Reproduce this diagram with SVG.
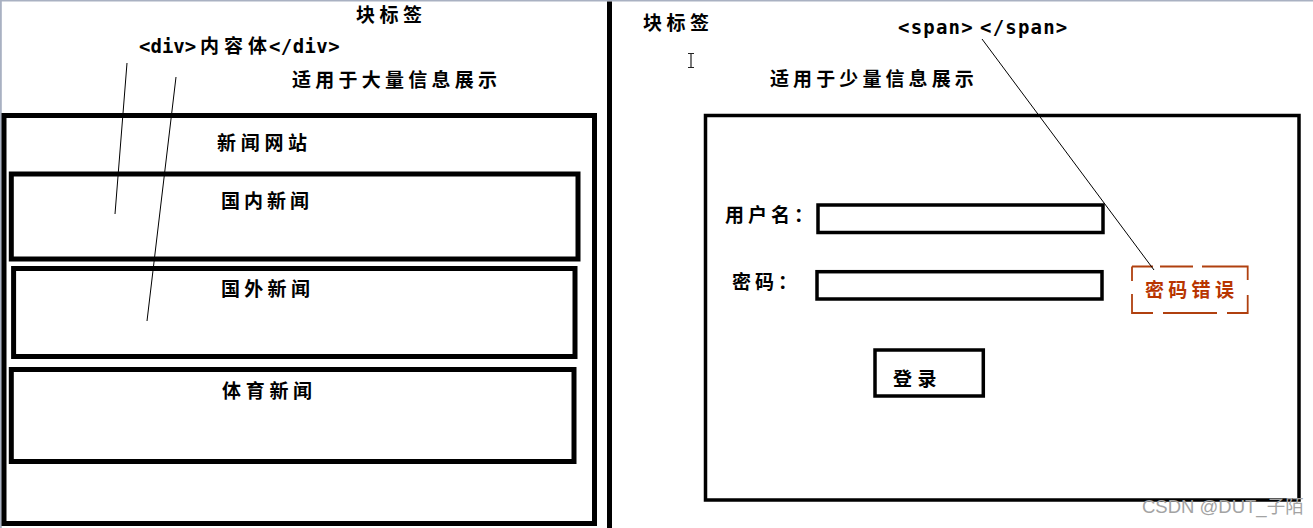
<svg xmlns="http://www.w3.org/2000/svg" width="1313" height="528" viewBox="0 0 1313 528">
  <style>
    .box { fill: none; stroke: #000; }
    .thick { stroke-width: 5; }
    .mid { stroke-width: 3.5; }
    .cjk { font-family: "Noto Sans CJK SC", "Noto Sans CJK JP", sans-serif; font-size: 19px; font-weight: bold; fill: #000; }
    .mono { font-family: "DejaVu Sans Mono", "Liberation Mono", monospace; font-size: 19px; font-weight: bold; fill: #000; }
    .conn { stroke: #000; stroke-width: 1; fill: none; }
    .err { fill: #b83500; }
    .errbox { stroke: #b0400f; stroke-width: 1.8; fill: none; }
    .mark { font-family: "Liberation Sans", "Noto Sans CJK SC", sans-serif; font-size: 18.5px; fill: #a3a3a3; }
  </style>
  <rect x="0" y="0" width="1313" height="528" fill="#fff"/>
  <!-- window edges -->
  <rect x="0" y="0" width="1313" height="1.5" fill="#a9b1c2"/>
  <rect x="0" y="0" width="1.8" height="528" fill="#a9b1c2"/>

  <!-- divider -->
  <g id="divider">
    <line x1="609.5" y1="1.5" x2="609.5" y2="528" stroke="#000" stroke-width="5"/>
  </g>

  <!-- left side -->
  <g id="title-left">
    <text class="cjk" x="356" y="21.5" letter-spacing="4.5">块标签</text>
  </g>
  <g id="div-label">
    <text class="mono" y="53"><tspan x="139" letter-spacing="0">&lt;div&gt;</tspan><tspan class="cjk" x="200" letter-spacing="5">内容体</tspan><tspan x="269" letter-spacing="0.4">&lt;/div&gt;</tspan></text>
  </g>
  <g id="desc-left">
    <text class="cjk" x="292" y="86.5" letter-spacing="4.25">适用于大量信息展示</text>
  </g>
  <g id="news-site">
    <rect class="box thick" x="4" y="115.5" width="590.5" height="408"/>
    <text class="cjk" x="217" y="149.5" letter-spacing="4.7">新闻网站</text>
  </g>
  <g id="domestic-news">
    <rect class="box thick" x="11.3" y="174" width="566.7" height="85"/>
    <text class="cjk" x="221" y="207.5" letter-spacing="4">国内新闻</text>
  </g>
  <g id="foreign-news">
    <rect class="box thick" x="13.6" y="268.5" width="561.4" height="88"/>
    <text class="cjk" x="221" y="295.5" letter-spacing="4.3">国外新闻</text>
  </g>
  <g id="sports-news">
    <rect class="box thick" x="11.3" y="369.5" width="562.7" height="92"/>
    <text class="cjk" x="222" y="398" letter-spacing="4.7">体育新闻</text>
  </g>

  <!-- right side -->
  <g id="title-right">
    <text class="cjk" x="643" y="30" letter-spacing="4.5">块标签</text>
  </g>
  <g id="span-label">
    <text class="mono" y="34" letter-spacing="1.2"><tspan x="898">&lt;span&gt;</tspan><tspan x="980">&lt;/span&gt;</tspan></text>
  </g>
  <g id="cursor">
    <path d="M688 53.5 H694 M691 53.5 V67.5 M688 67.5 H694" stroke="#222" stroke-width="1.2" fill="none"/>
  </g>
  <g id="desc-right">
    <text class="cjk" x="770" y="85.5" letter-spacing="4.1">适用于少量信息展示</text>
  </g>
  <g id="login-form">
    <rect class="box mid" x="705.5" y="115.5" width="593.5" height="384.5"/>
  </g>
  <g id="username">
    <text class="cjk" x="725" y="222" letter-spacing="4">用户名：</text>
    <rect class="box mid" x="818" y="205" width="285" height="27.5"/>
  </g>
  <g id="password">
    <text class="cjk" x="732" y="288.5" letter-spacing="4">密码：</text>
    <rect class="box mid" x="817" y="271.7" width="285" height="27.3"/>
  </g>
  <g id="login-button">
    <rect class="box mid" x="875" y="350" width="108.3" height="46"/>
    <text class="cjk" x="893" y="385.5" letter-spacing="5.5">登录</text>
  </g>
  <g id="error-msg">
    <path class="errbox" d="M1132 266.5 H1153 M1160 266.5 H1193 M1202 266.5 H1247.7 V280 M1247.7 295 V313 H1227 M1217 313 H1163 M1153 313 H1132 V294 M1132 281 V266.5"/>
    <text class="cjk err" x="1145" y="296.5" letter-spacing="4.3">密码错误</text>
  </g>

  <!-- connectors -->
  <g id="connectors">
    <line class="conn" x1="127" y1="63" x2="115" y2="214"/>
    <line class="conn" x1="176" y1="77" x2="147" y2="321"/>
    <line class="conn" x1="982" y1="39" x2="1154" y2="270"/>
  </g>

  <g id="watermark">
    <text class="mark" x="1142" y="513">CSDN @DUT_子陌</text>
  </g>
</svg>
